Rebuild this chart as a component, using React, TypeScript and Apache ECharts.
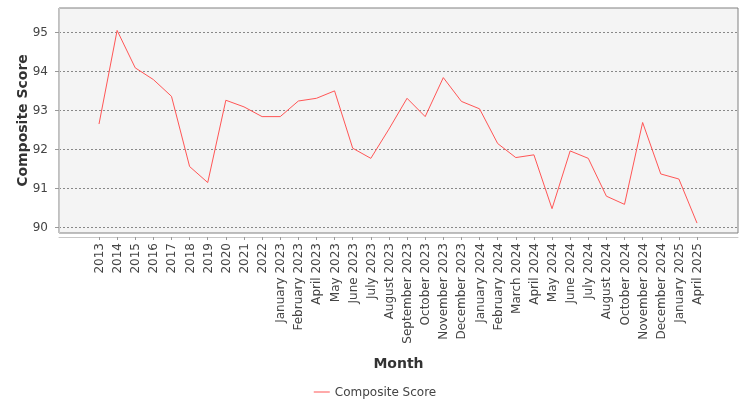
import { useEffect, useRef } from 'react';
import * as echarts from 'echarts';

const categories = [
  '2013', '2014', '2015', '2016', '2017', '2018', '2019', '2020', '2021', '2022',
  'January 2023', 'February 2023', 'April 2023', 'May 2023', 'June 2023', 'July 2023',
  'August 2023', 'September 2023', 'October 2023', 'November 2023', 'December 2023',
  'January 2024', 'February 2024', 'March 2024', 'April 2024', 'May 2024', 'June 2024',
  'July 2024', 'August 2024', 'October 2024', 'November 2024', 'December 2024',
  'January 2025', 'April 2025',
];

const compositeScore = [
  92.64, 95.04, 94.08, 93.78, 93.35, 91.55, 91.14, 93.25, 93.08, 92.83,
  92.83, 93.23, 93.3, 93.49, 92.02, 91.76,
  92.51, 93.3, 92.83, 93.83, 93.22,
  93.03, 92.14, 91.78, 91.85, 90.47, 91.95,
  91.76, 90.79, 90.58, 92.68, 91.36,
  91.23, 90.1,
];

const yTicks = [90, 91, 92, 93, 94, 95];

const FONT = 'DejaVu Sans';
const Y_MIN = 89.846;
const Y_MAX = 95.615;

export default function App() {
  const chartRef = useRef<HTMLDivElement>(null);

  useEffect(() => {
    if (!chartRef.current) return;
    const chart = echarts.init(chartRef.current, undefined, { renderer: 'svg' });

    const option: echarts.EChartsOption = {
      animation: false,
      textStyle: { fontFamily: FONT },
      legend: {
        data: [{ name: 'Composite Score', icon: 'rect' }],
        top: 381,
        left: 'center',
        itemWidth: 16,
        itemHeight: 1,
        textStyle: { fontFamily: FONT, fontSize: 12, color: '#444' },
      },
      grid: [
        {
          left: 59,
          top: 8,
          width: 679,
          height: 225,
          show: true,
          backgroundColor: '#f4f4f4',
          borderColor: '#808080',
          borderWidth: 1,
        },
        {
          left: 99,
          top: 8,
          width: 598,
          height: 225,
        },
      ],
      xAxis: [
        {
          gridIndex: 0,
          type: 'value',
          min: 0,
          max: 1,
          offset: 4,
          axisLine: { show: true, lineStyle: { color: '#c8c8c8' } },
          axisTick: { show: false },
          axisLabel: { show: false },
          splitLine: { show: false },
          name: 'Month',
          nameLocation: 'middle',
          nameGap: 119,
          nameMoveOverlap: false,
          nameTextStyle: { fontFamily: FONT, fontSize: 14, fontWeight: 'bold', color: '#333' },
        },
        {
          gridIndex: 1,
          type: 'category',
          data: categories,
          boundaryGap: false,
          offset: 4,
          axisLine: { show: false },
          axisTick: { show: true, interval: 0, length: 3, lineStyle: { color: '#999' } },
          axisLabel: {
            interval: 0,
            rotate: 90,
            margin: 6,
            fontFamily: FONT,
            fontSize: 12,
            color: '#444',
          },
          splitLine: { show: false },
        },
      ],
      yAxis: [
        {
          gridIndex: 0,
          type: 'value',
          min: Y_MIN,
          max: Y_MAX,
          offset: 3,
          axisLine: { show: true, lineStyle: { color: '#c8c8c8' } },
          axisTick: { show: true, length: 4, customValues: yTicks, lineStyle: { color: '#999' } },
          axisLabel: {
            customValues: yTicks,
            margin: 8,
            fontFamily: FONT,
            fontSize: 12,
            color: '#444',
          },
          splitLine: {
            show: true,
            lineStyle: { color: '#888', type: [2, 2], width: 1 },
          },
          name: 'Composite Score',
          nameLocation: 'middle',
          nameGap: 27,
          nameMoveOverlap: false,
          nameTextStyle: { fontFamily: FONT, fontSize: 14, fontWeight: 'bold', color: '#333' },
        },
        {
          gridIndex: 1,
          type: 'value',
          min: Y_MIN,
          max: Y_MAX,
          show: false,
          splitLine: { show: false },
        },
      ],
      series: [
        {
          name: 'Composite Score',
          type: 'line',
          xAxisIndex: 1,
          yAxisIndex: 1,
          data: compositeScore,
          symbol: 'none',
          lineStyle: { width: 1, color: '#ff5555' },
          itemStyle: { color: '#ff5555' },
        },
      ],
    };

    chart.setOption(option);

    return () => {
      chart.dispose();
    };
  }, []);

  return (
    <div
      ref={chartRef}
      style={{ position: 'fixed', left: 0, top: 0, width: '750px', height: '400px' }}
    ></div>
  );
}
